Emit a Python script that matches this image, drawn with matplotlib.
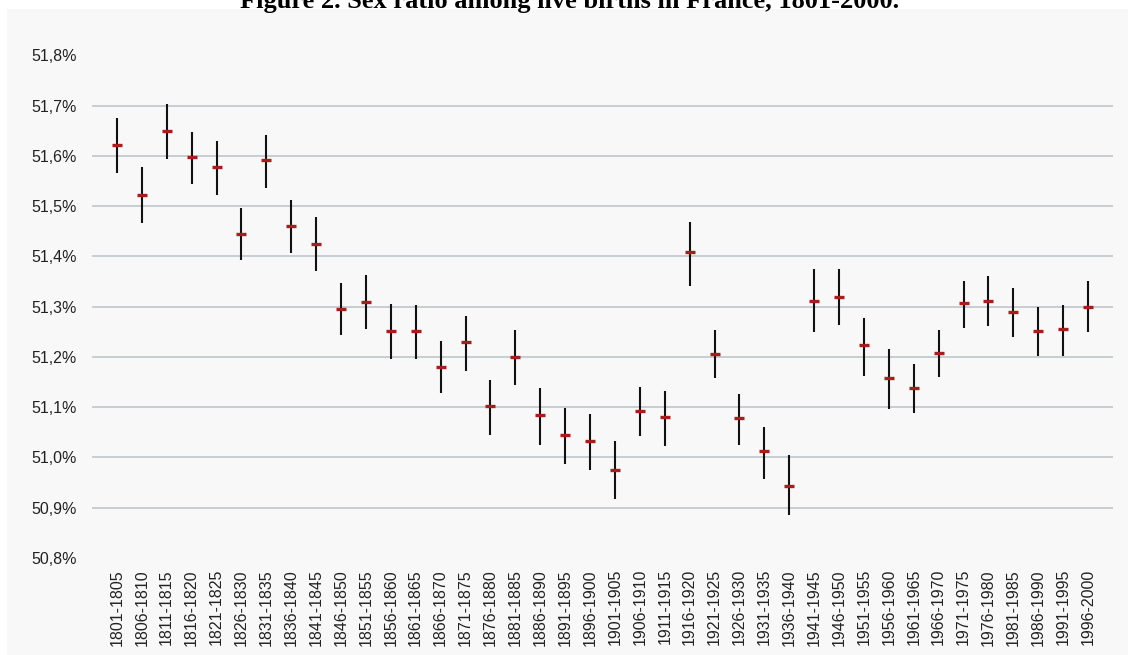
import matplotlib
matplotlib.use("Agg")
import matplotlib.pyplot as plt
from matplotlib.patches import Rectangle

# Periods (5-year groups)
periods = [
    "1801-1805", "1806-1810", "1811-1815", "1816-1820", "1821-1825",
    "1826-1830", "1831-1835", "1836-1840", "1841-1845", "1846-1850",
    "1851-1855", "1856-1860", "1861-1865", "1866-1870", "1871-1875",
    "1876-1880", "1881-1885", "1886-1890", "1891-1895", "1896-1900",
    "1901-1905", "1906-1910", "1911-1915", "1916-1920", "1921-1925",
    "1926-1930", "1931-1935", "1936-1940", "1941-1945", "1946-1950",
    "1951-1955", "1956-1960", "1961-1965", "1966-1970", "1971-1975",
    "1976-1980", "1981-1985", "1986-1990", "1991-1995", "1996-2000",
]

# Share of boys among live births (%), with lower / upper bounds
ratio = [
    51.621, 51.522, 51.649, 51.597, 51.577, 51.445, 51.591, 51.461, 51.424, 51.296,
    51.310, 51.252, 51.252, 51.181, 51.230, 51.103, 51.199, 51.084, 51.045, 51.033,
    50.975, 51.093, 51.081, 51.409, 51.206, 51.078, 51.012, 50.944, 51.312, 51.320,
    51.224, 51.158, 51.139, 51.208, 51.307, 51.312, 51.290, 51.252, 51.255, 51.300,
]
lower = [
    51.566, 51.467, 51.594, 51.544, 51.522, 51.393, 51.536, 51.406, 51.371, 51.243,
    51.255, 51.196, 51.196, 51.128, 51.172, 51.045, 51.144, 51.025, 50.987, 50.976,
    50.918, 51.042, 51.023, 51.342, 51.158, 51.025, 50.957, 50.885, 51.249, 51.263,
    51.163, 51.097, 51.089, 51.160, 51.258, 51.261, 51.239, 51.201, 51.201, 51.249,
]
upper = [
    51.676, 51.577, 51.703, 51.648, 51.629, 51.496, 51.642, 51.512, 51.479, 51.347,
    51.363, 51.306, 51.304, 51.232, 51.282, 51.155, 51.254, 51.139, 51.099, 51.086,
    51.033, 51.141, 51.133, 51.469, 51.254, 51.127, 51.060, 51.005, 51.375, 51.375,
    51.278, 51.216, 51.185, 51.254, 51.351, 51.361, 51.337, 51.300, 51.304, 51.351,
]

y_ticks = [50.8, 50.9, 51.0, 51.1, 51.2, 51.3, 51.4, 51.5, 51.6, 51.7, 51.8]
y_tick_labels = ["50,8%", "50,9%", "51,0%", "51,1%", "51,2%", "51,3%",
                 "51,4%", "51,5%", "51,6%", "51,7%", "51,8%"]

title = "Figure 2. Sex ratio among live births in France, 1801-2000."

W, H = 1135, 655
fig = plt.figure(figsize=(W / 100, H / 100), dpi=100)
fig.patch.set_facecolor("white")

# light grey chart area, behind the axes
fig.patches.append(Rectangle((7 / W, 0), 1121 / W, 1 - 9 / H,
                             transform=fig.transFigure, facecolor="#f8f8f8",
                             edgecolor="none", zorder=-5))

ax = fig.add_axes([92 / W, 1 - 558 / H, 1021 / W, (558 - 55.4) / H])
ax.set_facecolor("none")

x = list(range(len(periods)))
ax.vlines(x, lower, upper, color="#111111", linewidth=1.5, zorder=3)
ax.plot(x, ratio, linestyle="none", marker="_", markersize=7,
        markeredgewidth=2.4, color="#a51d1d", zorder=4)

ax.set_xlim(-1, len(periods))
ax.set_ylim(50.8, 51.8)
ax.set_yticks(y_ticks)
ax.set_yticklabels(y_tick_labels)
ax.set_xticks(x)
ax.set_xticklabels(periods, rotation=90)

ax.grid(axis="y", color="#c3cbcf", linewidth=1.3, zorder=1)
ax.set_axisbelow(True)
ygl = ax.get_ygridlines()
ygl[0].set_visible(False)
ygl[-1].set_visible(False)

for s in ax.spines.values():
    s.set_visible(False)

ax.tick_params(axis="y", length=0, pad=11, labelsize=11.5, labelcolor="#222222")
ax.tick_params(axis="x", length=0, pad=8, labelsize=11.5, labelcolor="#222222")
for lab in ax.get_xticklabels() + ax.get_yticklabels():
    lab.set_family(["Liberation Sans", "DejaVu Sans"])

fig.text(0.502, 1 - 8 / H, title, ha="center", va="baseline",
         fontsize=19, fontweight="bold", family=["Liberation Serif", "DejaVu Serif"])

fig.savefig("out.png", dpi=100, facecolor="white")
